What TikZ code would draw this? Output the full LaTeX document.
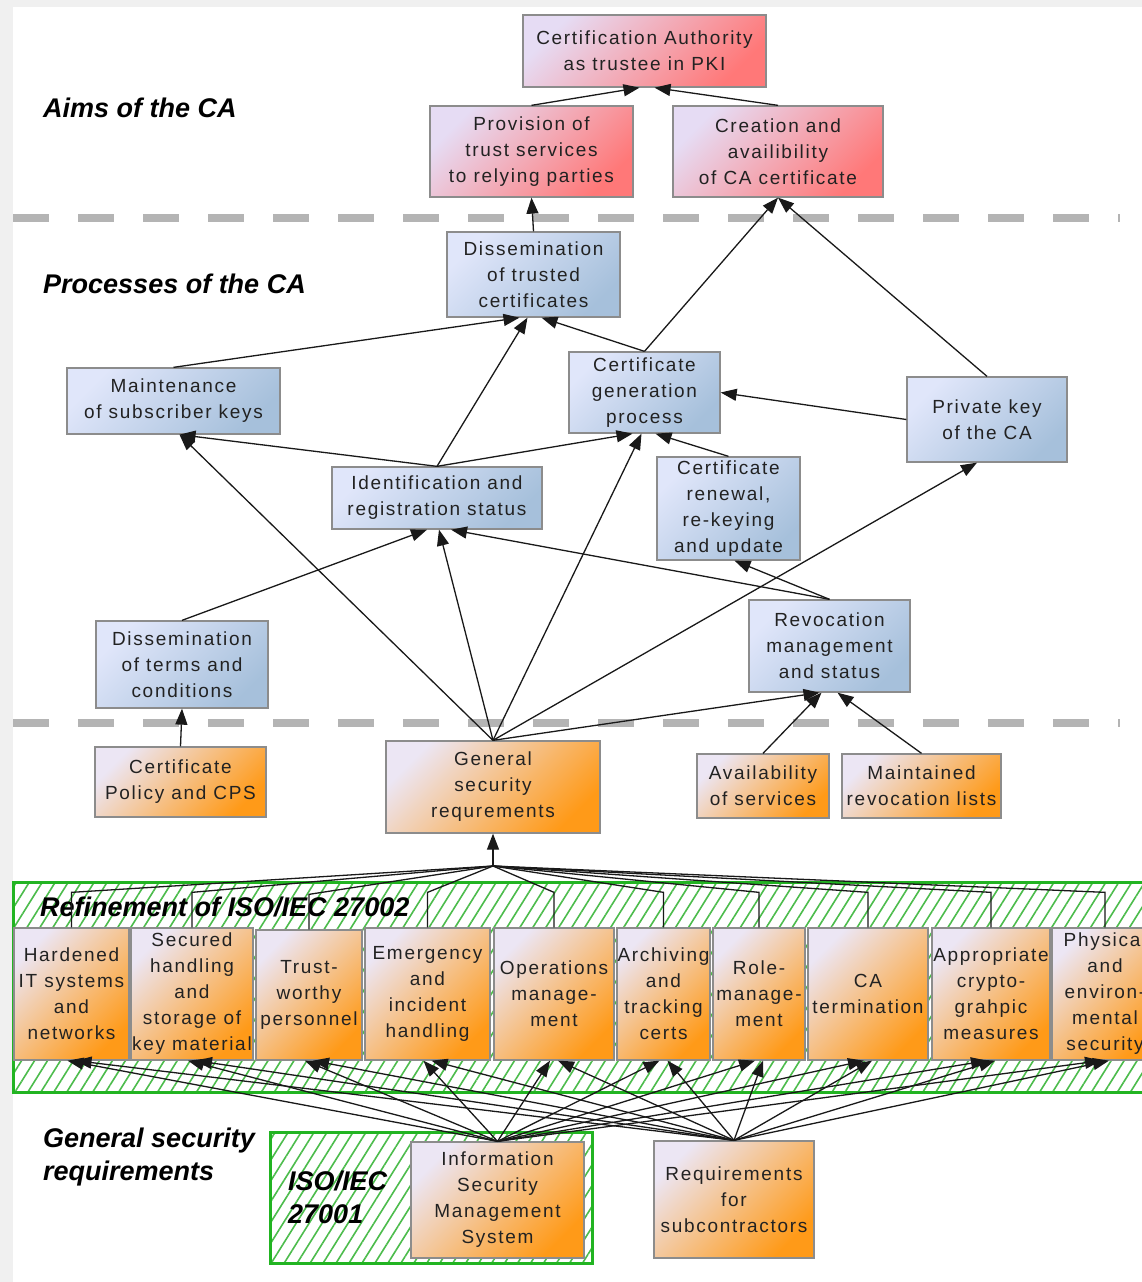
\documentclass[tikz,border=0pt]{standalone}
\usepackage{fontspec}
\setmainfont{Liberation Sans}[LetterSpace=9]
\newfontfamily\hdfont{Liberation Sans}
\usetikzlibrary{arrows.meta,patterns.meta}

\definecolor{pinkA}{HTML}{E6DCF4}
\definecolor{pinkB}{HTML}{FF7878}
\definecolor{blueA}{HTML}{E0E6FA}
\definecolor{blueB}{HTML}{A6C0DB}
\definecolor{orA}{HTML}{ECE6F4}
\definecolor{orB}{HTML}{FF9A18}
\definecolor{frame}{HTML}{8C8C8C}
\definecolor{txt}{HTML}{222222}
\definecolor{sepgray}{HTML}{B4B4B4}
\definecolor{margin}{HTML}{F0F0F0}
\definecolor{hatch}{HTML}{4CBC4C}
\definecolor{bandline}{HTML}{22B422}

\newcommand\boxfont{\fontsize{19pt}{26pt}\selectfont}
\newcommand\headfont{\hdfont\bfseries\itshape\fontsize{27pt}{33pt}\selectfont}

\begin{document}
\begin{tikzpicture}[x=1pt,y=-1pt,
  sz/.style 2 args={minimum width=#1pt, minimum height=#2pt},
  card/.style={draw=frame, line width=1.3pt, align=center, inner sep=0pt,
    font=\boxfont, text=txt},
  aim/.style={card, top color=pinkA, bottom color=pinkB, shading angle=45},
  proc/.style={card, top color=blueA, bottom color=blueB, shading angle=45},
  req/.style={card, top color=orA, bottom color=orB, shading angle=45},
  head/.style={font=\headfont, text=black, align=left, anchor=west, inner sep=0pt},
  edge/.style={draw=black!90, line width=1.3pt, -{Triangle[length=16pt,width=12pt]}},
  wire/.style={draw=black!90, line width=1.3pt},
  sep/.style={draw=sepgray, line width=8pt, dash pattern=on 36pt off 29pt},
  hatchbox/.style={draw=bandline, line width=3pt, fill=white, inner sep=0pt,
    pattern={Lines[angle=58,distance=11pt,line width=1.6pt]}, pattern color=hatch}
]
\useasboundingbox (0,0) rectangle (1142,1282);
\clip (0,0) rectangle (1142,1282);
\fill[white] (0,0) rectangle (1142,1282);
\fill[margin] (0,0) rectangle (13,1282);
\fill[margin] (0,0) rectangle (1142,7);

% layer separators
\draw[sep] (13,218) -- (1120,218);
\draw[sep] (13,723) -- (1120,723);

% section headings
\node[head] (haims) at (43,108) {Aims of the CA};
\node[head] (hproc) at (43,284) {Processes of the CA};
\node[head] (hgen) at (43,1157) {General security\\requirements};

% aims
\node[aim, sz={243}{72}] (ca) at (644.5,51) {Certification Authority\\as trustee in PKI};
\node[aim, sz={203}{91}] (prov) at (531.5,151.5) {Provision of\\trust services\\to relying parties};
\node[aim, sz={210}{91}] (creat) at (778,151.5) {Creation and\\availibility\\of CA certificate};

% processes
\node[proc, sz={173}{85}] (disst) at (533.5,274.5) {Dissemination\\of trusted\\certificates};
\node[proc, sz={213}{66}] (maint) at (173.5,401) {Maintenance\\of subscriber keys};
\node[proc, sz={151}{81}] (certgen) at (644.5,392.5) {Certificate\\generation\\process};
\node[proc, sz={160}{85}] (privkey) at (987,419.5) {Private key\\of the CA};
\node[proc, sz={210}{62}] (idreg) at (437,498) {Identification and\\registration status};
\node[proc, sz={143}{103}] (renew) at (728.5,508.5) {Certificate\\renewal,\\re-keying\\and update};
\node[proc, sz={172}{87}] (dissterms) at (182,664.5) {Dissemination\\of terms and\\conditions};
\node[proc, sz={161}{92}] (revoc) at (829.5,646) {Revocation\\management\\and status};

% requirements
\node[req, sz={171}{70}] (cp) at (180.5,782) {Certificate\\Policy and CPS};
\node[req, sz={214}{92}] (gensec) at (493,787) {General\\security\\requrements};
\node[req, sz={132}{64}] (avail) at (763,786) {Availability\\of services};
\node[req, sz={159}{64}] (maintrev) at (921.5,786) {Maintained\\revocation lists};

% connections between aims and processes
\draw[edge] (prov.north) -- ([xshift=-5pt]ca.south);
\draw[edge] (creat.north) -- ([xshift=10pt]ca.south);
\draw[edge] (disst.north) -- (prov.south);
\draw[edge] (certgen.north) -- (creat.south);
\draw[edge] (privkey.north) -- (creat.south);
\draw[edge] (maint.north) -- ([xshift=-14pt]disst.south);
\draw[edge] (idreg.north) -- ([xshift=-6pt]disst.south);
\draw[edge] (certgen.north) -- ([xshift=8pt]disst.south);
\draw[edge] (idreg.north) -- ([xshift=6pt]maint.south);
\draw[edge] (idreg.north) -- ([xshift=-12pt]certgen.south);
\draw[edge] (privkey.west) -- (certgen.east);
\draw[edge] (renew.north) -- ([xshift=11pt]certgen.south);
\draw[edge] (revoc.north) -- ([xshift=6pt]renew.south);
\draw[edge] (revoc.north) -- ([xshift=14pt]idreg.south);
\draw[edge] (dissterms.north) -- ([xshift=-10pt]idreg.south);
\draw[edge] (gensec.north) -- ([xshift=6pt]maint.south);
\draw[edge] (gensec.north) -- ([xshift=2pt]idreg.south);
\draw[edge] (gensec.north) -- ([xshift=-3pt]certgen.south);
\draw[edge] (gensec.north) -- ([xshift=-10pt]privkey.south);
\draw[edge] (gensec.north) -- ([xshift=-10pt]revoc.south);
\draw[edge] (cp.north) -- (dissterms.south);
\draw[edge] (avail.north) -- ([xshift=-8pt]revoc.south);
\draw[edge] (maintrev.north) -- ([xshift=8pt]revoc.south);

% ISO/IEC 27002 refinement band
\node[hatchbox, sz={1150}{210}] (band) at (588,987) {};
\node[head] (hrefine) at (40,907) {Refinement of ISO/IEC 27002};

\node[req, sz={115}{132}] (hard) at (71.5,994) {Hardened\\IT systems\\and\\networks};
\node[req, sz={122}{132}] (secur) at (192,994) {Secured\\handling\\and\\storage of\\key material};
\node[req, sz={106}{130}] (trust) at (309,995) {Trust-\\worthy\\personnel};
\node[req, sz={125}{132}] (emerg) at (427.5,994) {Emergency\\and\\incident\\handling};
\node[req, sz={120}{132}] (oper) at (554,994) {Operations\\manage-\\ment};
\node[req, sz={93}{132}] (arch) at (663.5,994) {Archiving\\and\\tracking\\certs};
\node[req, sz={92}{132}] (role) at (759,994) {Role-\\manage-\\ment};
\node[req, sz={120}{132}] (cater) at (868,994) {CA\\termination};
\node[req, sz={118}{132}] (appr) at (991,994) {Appropriate\\crypto-\\grahpic\\measures};
\node[req, sz={106}{132}] (phys) at (1105,994) {Physical\\and\\environ-\\mental\\security};

% refinements feed the general security requirements
\coordinate (fan) at (493,866);
\draw[edge] (fan) -- (gensec.south);
\foreach \b in {hard,secur,trust,emerg,oper,arch,role,cater,appr,phys}
  \draw[wire] (\b.north) -- ++(0,-35) -- (fan);

% ISO/IEC 27001 and subcontractor requirements
\node[hatchbox, sz={322}{131}] (isobox) at (431,1197.5) {};
\node[head] (hiso) at (288,1197) {ISO/IEC\\27001};
\node[req, sz={173}{116}] (isms) at (497.5,1200) {Information\\Security\\Management\\System};
\node[req, sz={160}{117}] (reqsub) at (734,1199.5) {Requirements\\for\\subcontractors};

\foreach \b in {hard,secur,trust,emerg,oper,arch,role,cater,appr,phys}{
  \draw[edge] (isms.north) -- ([xshift=-4pt]\b.south);
  \draw[edge] (reqsub.north) -- ([xshift=4pt]\b.south);
}
\end{tikzpicture}
\end{document}
